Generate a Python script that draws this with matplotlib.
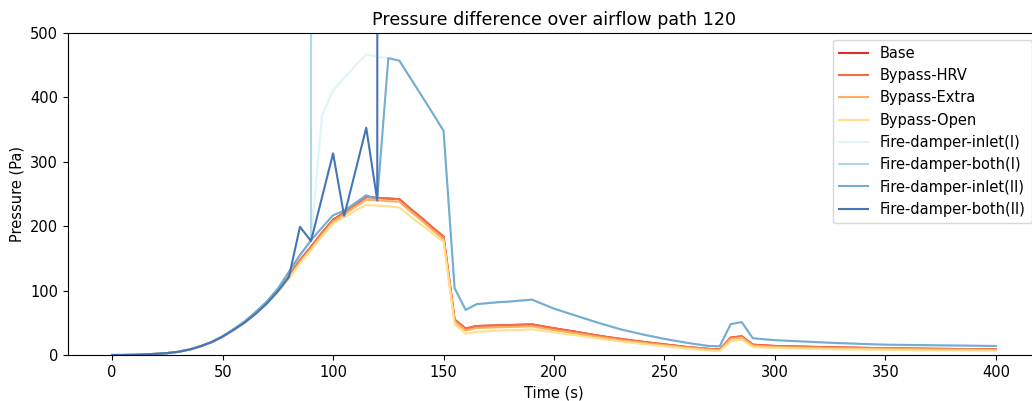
import numpy as np
import matplotlib
matplotlib.use("Agg")
import matplotlib.pyplot as plt

time_s = [0, 5, 10, 15, 20, 25, 30, 35, 40, 45, 50, 55, 60, 65, 70, 75, 80, 85, 90, 95,
          100, 105, 110, 115, 120, 125, 130, 135, 140, 145, 150, 155, 160, 165, 170, 175, 180, 185, 190, 195,
          200, 210, 220, 230, 240, 250, 260, 270, 275, 280, 285, 290, 300, 325, 350, 375, 400]

nan = float("nan")

base = [0, 0, 0.3, 1, 1.8, 3, 5, 8.5, 13.5, 20, 29, 40, 52, 66, 82, 101, 123, 147, 168, 190,
        210, 221, 233, 246, 244, 243, 242, 227, 213, 198, 184, 55, 41, 45, 45.5, 46, 46.5, 47, 47.5, 44.5,
        41.5, 36, 30, 25, 20.5, 16.5, 12.5, 9.5, 8.5, 27, 29, 16, 14, 12, 10.5, 9.5, 9]

bypass_hrv = [0, 0, 0.3, 1, 1.8, 3, 5, 8.5, 13.5, 20, 29, 40, 52, 66, 82, 101, 123, 147, 168, 190,
              210, 221, 233, 245, 244, 243, 242, 227, 213, 198, 184, 55, 41, 45, 45.5, 46, 46.5, 47, 47.5, 44.5,
              41.5, 36, 30, 25, 20.5, 16.5, 12.5, 9.5, 8.5, 27, 29, 16, 14, 12, 10.5, 9.5, 9]

bypass_extra = [0, 0, 0.3, 1, 1.8, 3, 5, 8.5, 13.5, 20, 28.5, 39.5, 51, 65, 81, 99, 120, 144, 165, 187,
                207, 218, 230, 241, 240, 239, 238, 223, 209, 194, 180, 52, 38, 42, 42.5, 43, 43.5, 44, 44.5, 41.5,
                38.5, 33.5, 28, 23, 19, 15, 11.5, 8.5, 7.5, 25, 27, 14.5, 12.5, 10.5, 9.5, 8.5, 8]

bypass_open = [0, 0, 0.3, 1, 1.8, 3, 5, 8.5, 13, 19.5, 28, 38.5, 50, 64, 79, 97, 118, 142, 163, 184,
               204, 214, 224, 233, 232, 231, 229, 215, 202, 189, 176, 48, 33, 36, 37, 38, 38.5, 39, 40, 37.5,
               35, 30.5, 25.5, 21, 17, 13.5, 10, 7, 6, 21, 24, 12, 11, 9, 8, 7, 6.7]

fd_inlet_1 = [0, 0, 0.3, 1, 1.8, 3, 5, 8.5, 13.5, 20, 29, 40, 52, 67, 83, 103, 129, 155, 178, 372,
              411, 430, 449, 467, 463, 461, 457, 430, 403, 376, 348, 104, 70, 79, 80.5, 82, 83, 84.5, 86, 79,
              72, 61, 50, 40, 32, 25, 19, 14, 13.5, 48, 51, 26, 23, 19, 16, 15, 14]

fd_both_1 = [0, 0, 0.3, 1, 1.8, 3, 5, 8.5, 13.5, 20, 29, 40, 52, 67, 83, 103, 129, 155, 178, 100000,
             nan, nan, nan, nan, nan, nan, nan, nan, nan, nan, nan, nan, nan, nan, nan, nan, nan, nan, nan, nan,
             nan, nan, nan, nan, nan, nan, nan, nan, nan, nan, nan, nan, nan, nan, nan, nan, nan]

fd_inlet_2 = [0, 0, 0.3, 1, 1.8, 3, 5, 8.5, 13.5, 20, 29, 40, 52, 67, 83, 103, 129, 155, 178, 198,
              217, 224, 236, 248, 242, 461, 457, 430, 403, 376, 348, 104, 70, 79, 80.5, 82, 83, 84.5, 86, 79,
              72, 61, 50, 40, 32, 25, 19, 14, 13.5, 48, 51, 26, 23, 19, 16, 15, 14]

fd_both_2 = [0, 0, 0.3, 1, 1.8, 3, 5, 8.5, 13.5, 20, 28.5, 39, 50.5, 64, 80, 99, 121, 199, 177, 245,
             313, 216, 284, 353, 240, 100000, nan, nan, nan, nan, nan, nan, nan, nan, nan, nan, nan, nan, nan, nan,
             nan, nan, nan, nan, nan, nan, nan, nan, nan, nan, nan, nan, nan, nan, nan, nan, nan]

series_names = ["Base", "Bypass-HRV", "Bypass-Extra", "Bypass-Open",
                "Fire-damper-inlet(I)", "Fire-damper-both(I)",
                "Fire-damper-inlet(II)", "Fire-damper-both(II)"]
series_values = [base, bypass_hrv, bypass_extra, bypass_open,
                 fd_inlet_1, fd_both_1, fd_inlet_2, fd_both_2]
colors = ["#d73027", "#f46d43", "#fdae61", "#fee090",
          "#e0f3f8", "#abd9e9", "#74add1", "#4575b4"]

plt.rcParams["font.size"] = 10.5

fig = plt.figure(figsize=(10.32, 4.01), dpi=100)
ax = fig.add_axes([68 / 1032, 46 / 401, 972 / 1032, 322 / 401])

for name, vals, c in zip(series_names, series_values, colors):
    ax.plot(time_s, vals, color=c, lw=1.5, label=name)

ax.set_xlim(-20, 420)
ax.set_ylim(0, 500)
ax.set_xticks([0, 50, 100, 150, 200, 250, 300, 350, 400])
ax.set_yticks([0, 100, 200, 300, 400, 500])
ax.set_xlabel("Time (s)")
ax.set_ylabel("Pressure (Pa)")
ax.set_title("Pressure difference over airflow path 120", fontsize=12.6)
ax.legend(loc="upper right", bbox_to_anchor=(1031.5 / 1032, 1 - 40 / 401),
          bbox_transform=fig.transFigure, borderaxespad=0)

fig.savefig("out.png", dpi=100)
